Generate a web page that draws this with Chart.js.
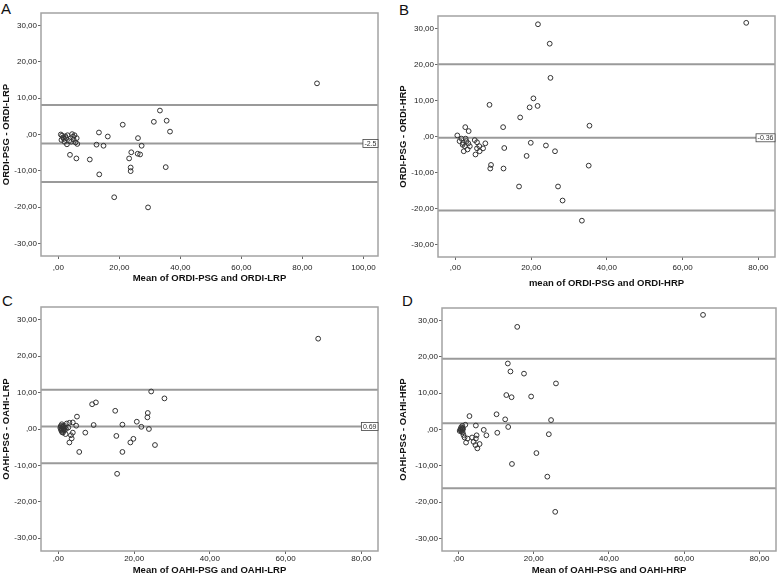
<!DOCTYPE html>
<html>
<head>
<meta charset="utf-8">
<script src="https://cdn.jsdelivr.net/npm/chart.js@4.4.0/dist/chart.umd.min.js"></script>
<style>
  body { margin: 0; background: #fff; width: 781px; height: 578px; position: relative; overflow: hidden;
         font-family: "Liberation Sans", Arial, sans-serif; }
  canvas { position: absolute; }
  .tag { position: absolute; font-size: 15px; line-height: 15px; color: #111; }
</style>
</head>
<body>
<div class="tag" style="left:1px;top:1px">A</div>
<div class="tag" style="left:399px;top:2px">B</div>
<div class="tag" style="left:2px;top:293px">C</div>
<div class="tag" style="left:402px;top:293px">D</div>
<canvas id="chartA" width="390" height="290" style="left:0;top:0"></canvas>
<canvas id="chartB" width="391" height="290" style="left:390px;top:0"></canvas>
<canvas id="chartC" width="390" height="288" style="left:0;top:290px"></canvas>
<canvas id="chartD" width="391" height="288" style="left:390px;top:290px"></canvas>
<script>
// A: ORDI PSG vs LRP
var aMean = [84.8, 33.3, 31.3, 35.5, 36.6, 21.1, 13.3, 16.2, 26.1, 12.5, 14.8, 27.3, 23.9, 26.0, 26.8, 23.2,
             23.7, 23.7, 35.2, 13.4, 10.3, 5.9, 3.8, 18.3, 29.4,
             0.8, 1.2, 1.5, 1.0, 1.8, 2.0, 2.3, 2.6, 2.8, 3.0, 4.5, 4.8, 5.0, 5.3, 5.6, 6.0, 6.2, 3.5, 4.2];
var aDiff = [14.1, 6.6, 3.5, 3.8, 0.8, 2.7, 0.55, -0.55, -1.0, -2.8, -3.1, -3.1, -4.9, -5.3, -5.5, -6.6,
             -9.1, -10.1, -9.0, -11.0, -6.9, -6.6, -5.6, -17.3, -20.1,
             0.0, -0.3, -0.8, -1.5, -1.2, -2.0, -0.5, -1.0, -2.7, -0.2, 0.1, -0.6, -1.4, -0.2, -2.2, -1.0, -2.6, -1.8, -2.0];
var aLines = [8.1, -2.5, -13.1];

// B: ORDI PSG vs HRP
var bMean = [76.8, 21.8, 24.9, 25.1, 20.6, 19.6, 21.7, 9.0, 17.1, 12.6, 35.4, 2.6, 3.5, 19.9, 12.9, 23.9,
             26.3, 18.8, 9.4, 9.2, 12.7, 35.2, 16.8, 27.1, 28.3, 33.4, 7.9,
             0.5, 1.1, 1.6, 2.0, 2.2, 2.5, 2.9, 3.2, 3.4, 3.8, 5.1, 5.7, 5.3, 5.7, 6.3, 6.4, 7.3, 2.7, 1.9];
var bDiff = [31.6, 31.2, 25.8, 16.3, 10.6, 8.1, 8.5, 8.8, 5.3, 2.6, 3.0, 2.6, 1.5, -1.75, -3.2, -2.5,
             -4.1, -5.4, -7.9, -8.9, -8.9, -8.1, -13.9, -13.9, -17.8, -23.4, -1.9,
             0.3, -1.3, -0.6, -1.8, -4.1, -2.7, -1.3, -3.6, -1.9, -2.7, -1.0, -1.6, -5.0, -3.3, -2.7, -4.1, -3.3, -0.6, -2.3];
var bLines = [20.1, -0.36, -20.6];

// C: OAHI PSG vs LRP
var cMean = [68.6, 24.5, 28.0, 8.9, 9.9, 15.0, 23.6, 23.5, 4.9, 20.7, 16.9, 9.3, 21.9, 23.9, 7.1, 15.3,
             19.8, 19.0, 25.5, 16.9, 5.5, 15.5,
             0.5, 0.8, 1.0, 1.2, 1.4, 1.6, 0.7, 1.1, 1.9, 0.9, 1.5, 2.0, 1.3, 1.7, 2.2, 2.9, 3.8, 3.8, 3.5,
             2.9, 3.3, 2.6, 4.7, 0.6, 1.0, 1.3, 0.8, 1.2];
var cDiff = [24.8, 10.3, 8.4, 6.8, 7.3, 5.0, 4.4, 3.2, 3.4, 2.0, 1.2, 1.1, 0.6, 0.0, -1.0, -1.9,
             -2.7, -3.7, -4.4, -6.3, -6.3, -12.3,
             0.3, -0.5, 0.8, -1.0, 0.2, -0.3, -0.2, 0.5, -1.4, 1.3, 0.9, 0.0, -0.1, 0.4, 1.5, 1.7, 1.8, -1.0, -2.6,
             -3.7, -1.7, 0.4, 0.9, 0.8, -0.9, 0.6, 0.1, -0.5];
var cLines = [10.8, 0.69, -9.4];

// D: OAHI PSG vs HRP
var dMean = [65.0, 15.6, 13.1, 13.8, 17.4, 25.9, 12.7, 14.1, 19.3, 10.1, 2.9, 12.4, 24.6, 4.6, 13.2, 6.7,
             10.3, 24.0, 7.4, 4.8, 3.6, 4.6, 2.4, 4.0, 2.0, 5.6, 4.5, 5.0, 20.7, 14.2, 23.6, 25.7,
             0.3, 0.7, 1.0, 1.1, 1.3, 1.6, 1.0, 0.5, 1.8, 1.1, 0.8, 0.6, 0.9, 1.2];
var dDiff = [31.6, 28.3, 18.2, 16.0, 15.4, 12.7, 9.5, 8.9, 9.1, 4.2, 3.7, 2.8, 2.6, 1.1, 0.7, -0.1,
             -0.9, -1.3, -1.6, -1.6, -2.2, -2.5, -2.5, -3.4, -3.6, -4.0, -4.3, -5.2, -6.5, -9.5, -13.0, -22.7,
             -0.4, 0.6, 0.1, -0.8, -1.5, -2.2, 1.0, 0.1, 1.3, -0.1, -0.6, -0.2, 0.4, 0.3];
var dLines = [19.5, 1.7, -16.2];

// comma decimal like SPSS: 0 -> ",00", 20 -> "20,00"
function fmt(v) {
    var s = Math.abs(v).toFixed(2).replace('.', ',');
    if (Math.abs(v) < 1) s = s.slice(1);
    return (v < 0 ? '-' : '') + s;
}

var refLines = {
    id: 'refLines',
    beforeDatasetsDraw: function(chart, args, opts) {
        var a = chart.chartArea, y = chart.scales.y, ctx = chart.ctx;
        ctx.save();
        ctx.strokeStyle = '#9a9a9a';
        ctx.lineWidth = 2;
        opts.values.forEach(function(v) {
            var py = y.getPixelForValue(v);
            ctx.beginPath();
            ctx.moveTo(a.left, py);
            ctx.lineTo(a.right, py);
            ctx.stroke();
        });
        ctx.strokeStyle = '#a3a3a3';
        ctx.lineWidth = 1.5;
        ctx.strokeRect(a.left, a.top, a.right - a.left, a.bottom - a.top);
        if (opts.label) {
            var py = y.getPixelForValue(opts.values[1]);
            ctx.font = '7px "Liberation Sans", Arial, sans-serif';
            var w = ctx.measureText(opts.label).width + 3;
            ctx.fillStyle = '#fff';
            ctx.fillRect(a.right - w, py - 4, w, 8);
            ctx.strokeStyle = '#444';
            ctx.lineWidth = 0.8;
            ctx.strokeRect(a.right - w, py - 4, w, 8);
            ctx.fillStyle = '#333';
            ctx.textBaseline = 'middle';
            ctx.fillText(opts.label, a.right - w + 1.5, py + 0.5);
        }
        ctx.restore();
    }
};

function makeChart(id, xs, ys, lines, label, p) {
    var pts = xs.map(function(x, i) { return { x: x, y: ys[i] }; });
    return new Chart(document.getElementById(id), {
        type: 'scatter',
        data: {
            datasets: [{
                data: pts,
                pointRadius: 2.4,
                borderWidth: 1,
                borderColor: '#333',
                backgroundColor: 'rgba(0,0,0,0)'
            }]
        },
        options: {
            responsive: false,
            animation: false,
            layout: { padding: { left: 0, top: p.top, right: p.right, bottom: 0 } },
            plugins: {
                legend: { display: false },
                tooltip: { enabled: false },
                refLines: { values: lines, label: label }
            },
            scales: {
                x: {
                    type: 'linear',
                    min: p.xmin, max: p.xmax,
                    afterFit: function(s) { s.height = p.xh; },
                    border: { display: false },
                    grid: { drawOnChartArea: false, drawTicks: true, tickLength: 3, color: '#666' },
                    ticks: { stepSize: 20, includeBounds: false, callback: fmt, color: '#222',
                             padding: p.xtp, maxRotation: 0,
                             font: { size: 8, family: '"Liberation Sans", Arial' } },
                    title: { display: true, text: p.xt, color: '#111',
                             padding: { top: p.xtitle, bottom: p.xtitle },
                             font: { size: 9.5, weight: 'bold', family: '"Liberation Sans", Arial' } }
                },
                y: {
                    type: 'linear',
                    min: -33.5, max: 33.5,
                    afterFit: function(s) { s.width = p.yw; },
                    border: { display: false },
                    grid: { drawOnChartArea: false, drawTicks: true, tickLength: 3, color: '#666' },
                    ticks: { stepSize: 10, includeBounds: false, callback: fmt, color: '#222', padding: 1,
                             font: { size: 8, family: '"Liberation Sans", Arial' } },
                    title: { display: true, text: p.yt, color: '#111',
                             padding: { top: p.ytitle, bottom: p.ytitle },
                             font: { size: 9.5, weight: 'bold', family: '"Liberation Sans", Arial' } }
                }
            }
        },
        plugins: [refLines]
    });
}

makeChart('chartA', aMean, aDiff, aLines, '-2.5',
    { top: 13, right: 12, yw: 41, xh: 34, xmin: -5.7, xmax: 104.8, xtp: 4, xtitle: 6,
      ytitle: 0.5, xt: 'Mean of ORDI-PSG and ORDI-LRP', yt: 'ORDI-PSG - ORDI-LRP' });
makeChart('chartB', bMean, bDiff, bLines, '-0.36',
    { top: 16, right: 6, yw: 48, xh: 33, xmin: -4.6, xmax: 84.4, xtp: 3, xtitle: 1,
      ytitle: 7.3, xt: 'mean of ORDI-PSG and ORDI-HRP', yt: 'ORDI-PSG - ORDI-HRP' });
makeChart('chartC', cMean, cDiff, cLines, '0.69',
    { top: 17, right: 12, yw: 41, xh: 27, xmin: -4.6, xmax: 84.4, xtp: 0, xtitle: 2.3,
      ytitle: 0.5, xt: 'Mean of OAHI-PSG and OAHI-LRP', yt: 'OAHI-PSG - OAHI-LRP' });
makeChart('chartD', dMean, dDiff, dLines, null,
    { top: 18, right: 2, yw: 52, xh: 27, xmin: -4.4, xmax: 84.4, xtp: 0, xtitle: 2.3,
      ytitle: 7.3, xt: 'Mean of OAHI-PSG and OAHI-HRP', yt: 'OAHI-PSG - OAHI-HRP' });
</script>
</body>
</html>
